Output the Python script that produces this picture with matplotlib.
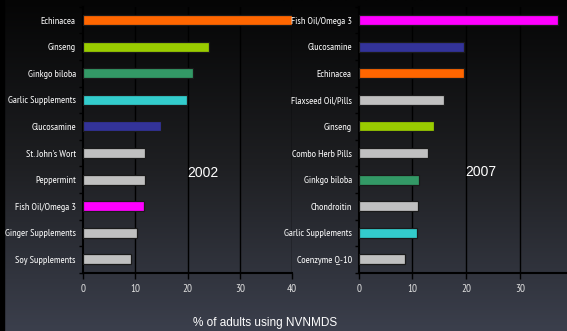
import matplotlib.pyplot as plt
import numpy as np
from matplotlib.colors import LinearSegmentedColormap

# 2002 survey
cats_2002 = ["Echinacea", "Ginseng", "Ginkgo biloba", "Garlic Supplements", "Glucosamine",
             "St. John's Wort", "Peppermint", "Fish Oil/Omega 3", "Ginger Supplements",
             "Soy Supplements"]
vals_2002 = [40.0, 24.1, 21.1, 19.9, 14.9, 11.9, 11.8, 11.7, 10.4, 9.3]
cols_2002 = ["#ff6600", "#99cc00", "#339966", "#33cccc", "#333399",
             "#c0c0c0", "#c0c0c0", "#ff00ff", "#c0c0c0", "#c0c0c0"]

# 2007 survey
cats_2007 = ["Fish Oil/Omega 3", "Glucosamine", "Echinacea", "Flaxseed Oil/Pills", "Ginseng",
             "Combo Herb Pills", "Ginkgo biloba", "Chondroitin", "Garlic Supplements",
             "Coenzyme Q-10"]
vals_2007 = [37.2, 19.7, 19.7, 15.8, 14.1, 12.9, 11.2, 11.1, 10.8, 8.7]
cols_2007 = ["#ff00ff", "#333399", "#ff6600", "#c0c0c0", "#99cc00",
             "#c0c0c0", "#339966", "#c0c0c0", "#33cccc", "#c0c0c0"]

xticks_2002 = [0, 10, 20, 30, 40]
xticks_2007 = [0, 10, 20, 30]

narrow = ["PT Sans Narrow", "Roboto Condensed", "DejaVu Sans"]
plain = ["Liberation Sans", "DejaVu Sans"]

fig = plt.figure(figsize=(5.67, 3.31), dpi=100)

# background gradient
bg = fig.add_axes([0, 0, 1, 1], zorder=-10)
grad = np.linspace(0, 1, 256).reshape(-1, 1)
cmap = LinearSegmentedColormap.from_list("bg", ["#050505", "#1e1f22", "#3b3f4c"])
bg.imshow(grad, aspect="auto", cmap=cmap, extent=[0, 1, 0, 1], origin="upper")
bg.axvspan(0, 4 / 567, color="black")
bg.set_xlim(0, 1)
bg.set_ylim(0, 1)
bg.axis("off")


def panel(rect, cats, vals, cols, xmax, xticks, year, year_xy):
    ax = fig.add_axes(rect)
    ax.set_facecolor("none")
    y = np.arange(len(cats))
    ax.barh(y, vals, height=0.37, color=cols, edgecolor="#1a1a1a", linewidth=0.9, zorder=3)
    ax.set_ylim(len(cats) - 0.5, -0.5)
    ax.set_xlim(0, xmax)
    ax.set_yticks(y)
    ax.set_yticklabels(cats, color="white", fontsize=7.3, family=narrow)
    ax.tick_params(axis="y", length=0, pad=5)
    ax.set_yticks(np.arange(len(cats) + 1) - 0.5, minor=True)
    ax.tick_params(axis="y", which="minor", length=3, color="black", width=1)
    ax.set_xticks(xticks)
    ax.set_xticklabels([str(t) for t in xticks], color="#e0e0e0", fontsize=8, family=narrow)
    ax.tick_params(axis="x", length=4, color="black", width=1, pad=4)
    for t in xticks[1:]:
        ax.axvline(t, color="black", lw=1, zorder=1)
    for s in ["left", "bottom"]:
        ax.spines[s].set_color("black")
        ax.spines[s].set_linewidth(1.5)
    ax.spines["top"].set_visible(False)
    ax.spines["right"].set_visible(False)
    ax.text(year_xy[0], year_xy[1], year, color="white", fontsize=10, family=plain,
            ha="center", va="center", transform=ax.transData)
    return ax


panel([82.7 / 567, 58.3 / 331, 209.6 / 567, 266 / 331], cats_2002, vals_2002, cols_2002,
      40, xticks_2002, "2002", (23, 5.75))
panel([358.7 / 567, 58.3 / 331, 207.3 / 567, 266 / 331], cats_2007, vals_2007, cols_2007,
      38.6, xticks_2007, "2007", (22.8, 5.7))

fig.text(265 / 567, 1 - 323 / 331, "% of adults using NVNMDS", color="white", fontsize=8.5,
         family=plain, ha="center", va="center")

fig.savefig("out.png", dpi=100)
